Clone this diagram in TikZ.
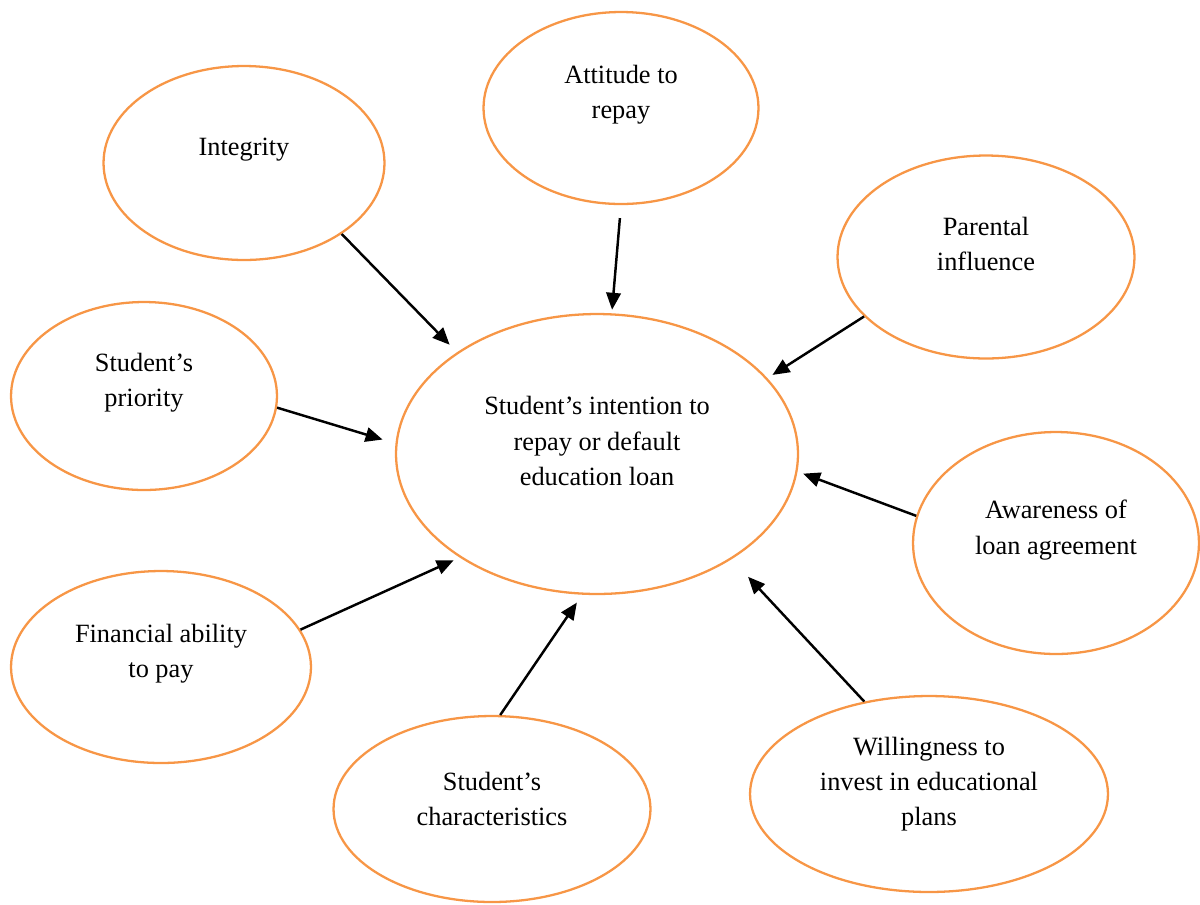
\documentclass[tikz,border=0pt]{standalone}
\usepackage{fontspec}
\setmainfont{Liberation Serif}
\usepackage{tikz}
\usetikzlibrary{shapes,arrows.meta}
\usepackage{xcolor}
\definecolor{accent}{HTML}{F79646}

\begin{document}
\begin{tikzpicture}[x=0.02cm, y=-0.02cm]
            \tikzstyle{factor} = [ellipse, inner sep=0pt, line width=1.3pt, draw=accent]
            \tikzstyle{txt} = [align=center, yshift=0.26cm, font=\fontsize{15}{20}\selectfont]
            \tikzstyle{link} = [-{Triangle[length=0.34cm, width=0.29cm]}, line width=1.4pt, draw=black]
            \useasboundingbox (0, 0) rectangle (1200, 904);
            \node[factor, minimum width=8.04cm, minimum height=5.6cm, label={[txt]center:{Student's intention to\\repay or default\\education loan}}] (cen) at (597, 454) {};
            \node[factor, minimum width=5.62cm, minimum height=3.88cm, label={[txt]center:{Integrity}}] (integ) at (244, 163) {};
            \node[factor, minimum width=5.5cm, minimum height=3.84cm, label={[txt]center:{Attitude to\\repay}}] (att) at (621, 108) {};
            \node[factor, minimum width=5.94cm, minimum height=4.06cm, label={[txt]center:{Parental\\influence}}] (par) at (986, 257) {};
            \node[factor, minimum width=5.32cm, minimum height=3.76cm, label={[txt]center:{Student's\\priority}}] (prio) at (144, 396) {};
            \node[factor, minimum width=5.72cm, minimum height=4.44cm, label={[txt]center:{Awareness of\\loan agreement}}] (aware) at (1056, 543) {};
            \node[factor, minimum width=6.0cm, minimum height=3.84cm, label={[txt]center:{Financial ability\\to pay}}] (fin) at (161, 667) {};
            \node[factor, minimum width=6.34cm, minimum height=3.72cm, label={[txt, yshift=-0.06cm]center:{Student's\\characteristics}}] (char) at (492, 809) {};
            \node[factor, minimum width=7.16cm, minimum height=3.92cm, label={[txt, yshift=-0.06cm]center:{Willingness to\\invest in educational\\plans}}] (will) at (929, 794) {};
            % every factor points at the central intention
            \draw[link, shorten >=0.21cm] (integ.-36) -- (cen.144);
            \draw[link, shorten <=0.26cm, shorten >=0.07cm] (att.-90) -- (cen.84.5);
            \draw[link, shorten >=0.12cm] (par.206) -- (cen.24);
            \draw[link, shorten >=0.27cm] (prio.-5) -- (cen.177);
            \draw[link, shorten >=0.12cm] (aware.169) -- (cen.-5.6);
            \draw[link, shorten >=0.13cm] (fin.15) -- (cen.-143.5);
            \draw[link, shorten >=0.19cm] (char.85) -- (cen.-96.5);
            \draw[link, shorten >=0.48cm] (will.125) -- (cen.-38);
        \end{tikzpicture}
\end{document}
